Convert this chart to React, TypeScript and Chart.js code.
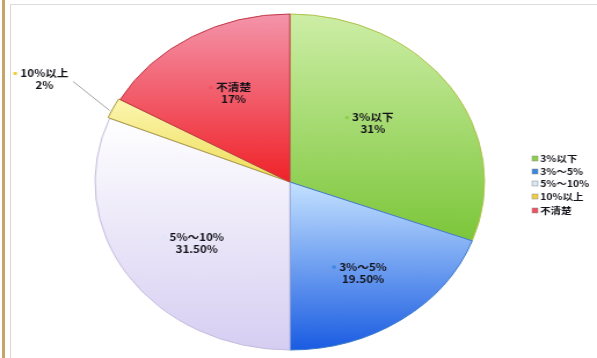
import React, { useEffect, useRef } from "react";
import { Chart, registerables } from "chart.js";

Chart.register(...registerables);

const categories = ["3%以下", "3%～5%", "5%～10%", "10%以上", "不清楚"];
const values = [31, 19.5, 31.5, 2, 17];
const valueLabels = ["31%", "19.50%", "31.50%", "2%", "17%"];

const topColors = ["#cdeea6", "#c4e2ff", "#ffffff", "#fcf6b0", "#f494aa"];
const bottomColors = ["#7cc63a", "#1a5ce2", "#d6cef2", "#eedc58", "#f02228"];
const borderColors = ["#b0c048", "#3a78c8", "#c4bcdc", "#a89840", "#c03848"];
const keyColors = ["#8cd048", "#3a86e0", "#d8e8f8", "#f0d040", "#f05060"];
const offsets = [0, 0, 0, 3, 0];

// label placement: [radius fraction, angular fraction within slice]
const labelPlace = [
  [0.55, 0.46],
  [0.66, 0.5],
  [0.6, 0.47],
  [1.4, 0.5],
  [0.6, 0.525],
];

const W = 597;
const H = 358;
const SX = 1.16;
const IW = Math.round(W / SX);
const FONT = "'Noto Sans CJK SC', 'Noto Sans', sans-serif";

function sliceGeom(chart: any, i: number) {
  const ca = chart.chartArea;
  const cx = (ca.left + ca.right) / 2;
  const cy = (ca.top + ca.bottom) / 2;
  const r = (Math.min(ca.right - ca.left, ca.bottom - ca.top) - 4) / 2;
  const total = values.reduce((a, b) => a + b, 0);
  let s = -Math.PI / 2;
  for (let k = 0; k < i; k++) s += (values[k] / total) * Math.PI * 2;
  const e = s + (values[i] / total) * Math.PI * 2;
  return { cx, cy, r, s, e };
}

const labelPlugin = {
  id: "sliceLabels",
  afterDatasetsDraw(chart: any) {
    const ctx = chart.ctx;
    const meta = chart.getDatasetMeta(0);
    ctx.save();
    ctx.font = `bold 10px ${FONT}`;
    ctx.textBaseline = "middle";
    meta.data.forEach((arc: any, i: number) => {
      const [rf, af] = labelPlace[i];
      const a = arc.startAngle + (arc.endAngle - arc.startAngle) * af;
      const R = arc.outerRadius;
      const px = arc.x + Math.cos(a) * R * rf;
      const py = arc.y + Math.sin(a) * R * rf;
      const t1 = categories[i];
      const t2 = valueLabels[i];
      const w1 = ctx.measureText(t1).width;
      const w2 = ctx.measureText(t2).width;
      const key = 3;
      const y1 = py - 6;
      const y2 = py + 6;
      const x0 = px - w1 / 2;
      ctx.fillStyle = keyColors[i];
      ctx.fillRect(x0 - key - 3, y1 - key / 2, key, key);
      ctx.fillStyle = "#111118";
      ctx.textAlign = "center";
      ctx.fillText(t1, px, y1);
      ctx.fillText(t2, px, y2);
      if (rf > 1) {
        const ma = (arc.startAngle + arc.endAngle) / 2;
        const off = offsets[i];
        const ex = arc.x + Math.cos(ma - 0.02) * (R + off);
        const ey = arc.y + Math.sin(ma - 0.02) * (R + off);
        ctx.beginPath();
        ctx.strokeStyle = "#8a8a8a";
        ctx.lineWidth = 0.8;
        ctx.moveTo(px + Math.max(w1, w2) / 2 + 4, py + 2);
        ctx.lineTo(ex, ey);
        ctx.stroke();
      }
    });
    ctx.restore();
  },
};

const legendPlugin = {
  id: "sideLegend",
  afterDraw(chart: any) {
    const ctx = chart.ctx;
    ctx.save();
    ctx.font = `bold 9px ${FONT}`;
    ctx.textBaseline = "middle";
    ctx.textAlign = "left";
    const kx = 459;
    const rows = [159, 172, 184, 197, 211];
    categories.forEach((c, i) => {
      const y = rows[i];
      ctx.fillStyle = keyColors[i];
      ctx.fillRect(kx, y - 3, 5, 5);
      ctx.strokeStyle = "#888";
      ctx.lineWidth = 0.5;
      ctx.strokeRect(kx, y - 3, 5, 5);
      ctx.fillStyle = "#111118";
      ctx.fillText(c, kx + 7, y);
    });
    ctx.restore();
  },
};

export default function App() {
  const ref = useRef<HTMLCanvasElement | null>(null);
  useEffect(() => {
    if (!ref.current) return;
    const chart = new Chart(ref.current, {
      type: "pie",
      data: {
        labels: categories,
        datasets: [
          {
            data: values,
            backgroundColor: (c: any) => {
              const chart = c.chart;
              const i = c.dataIndex;
              if (!chart.chartArea || i === undefined) return bottomColors[i ?? 0];
              const g = sliceGeom(chart, i);
              let ymin = g.cy;
              let ymax = g.cy;
              for (let k = 0; k <= 40; k++) {
                const a = g.s + ((g.e - g.s) * k) / 40;
                const y = g.cy + Math.sin(a) * g.r;
                ymin = Math.min(ymin, y);
                ymax = Math.max(ymax, y);
              }
              if (ymax - ymin < 1) ymax = ymin + 1;
              const grad = chart.ctx.createLinearGradient(0, ymin, 0, ymax);
              grad.addColorStop(0, topColors[i]);
              grad.addColorStop(1, bottomColors[i]);
              return grad;
            },
            borderColor: borderColors,
            borderWidth: 1,
            offset: offsets,
            hoverOffset: 0,
          },
        ],
      },
      options: {
        responsive: false,
        animation: false,
        events: [],
        layout: { padding: { left: 0, right: 15, top: 12, bottom: 6 } },
        plugins: {
          legend: { display: false },
          tooltip: { enabled: false },
        },
      },
      plugins: [labelPlugin, legendPlugin],
    });
    return () => chart.destroy();
  }, []);

  return (
    <div
      style={{
        position: "absolute",
        left: 0,
        top: 0,
        width: W,
        height: H,
        overflow: "hidden",
        background: "#ffffff",
      }}
    >
      <div style={{ position: "absolute", left: 2, top: 0, width: 3, height: H, background: "#c8a468" }} />
      <div style={{ position: "absolute", left: 10, top: 4, width: 1, height: H, background: "#d6d6d6" }} />
      <div style={{ position: "absolute", left: 10, top: 4, width: W, height: 1, background: "#dcdcdc" }} />
      <canvas
        ref={ref}
        width={IW}
        height={H}
        style={{ position: "absolute", left: 0, top: 0, transform: `scaleX(${W / IW})`, transformOrigin: "0 0" }}
      />
    </div>
  );
}
